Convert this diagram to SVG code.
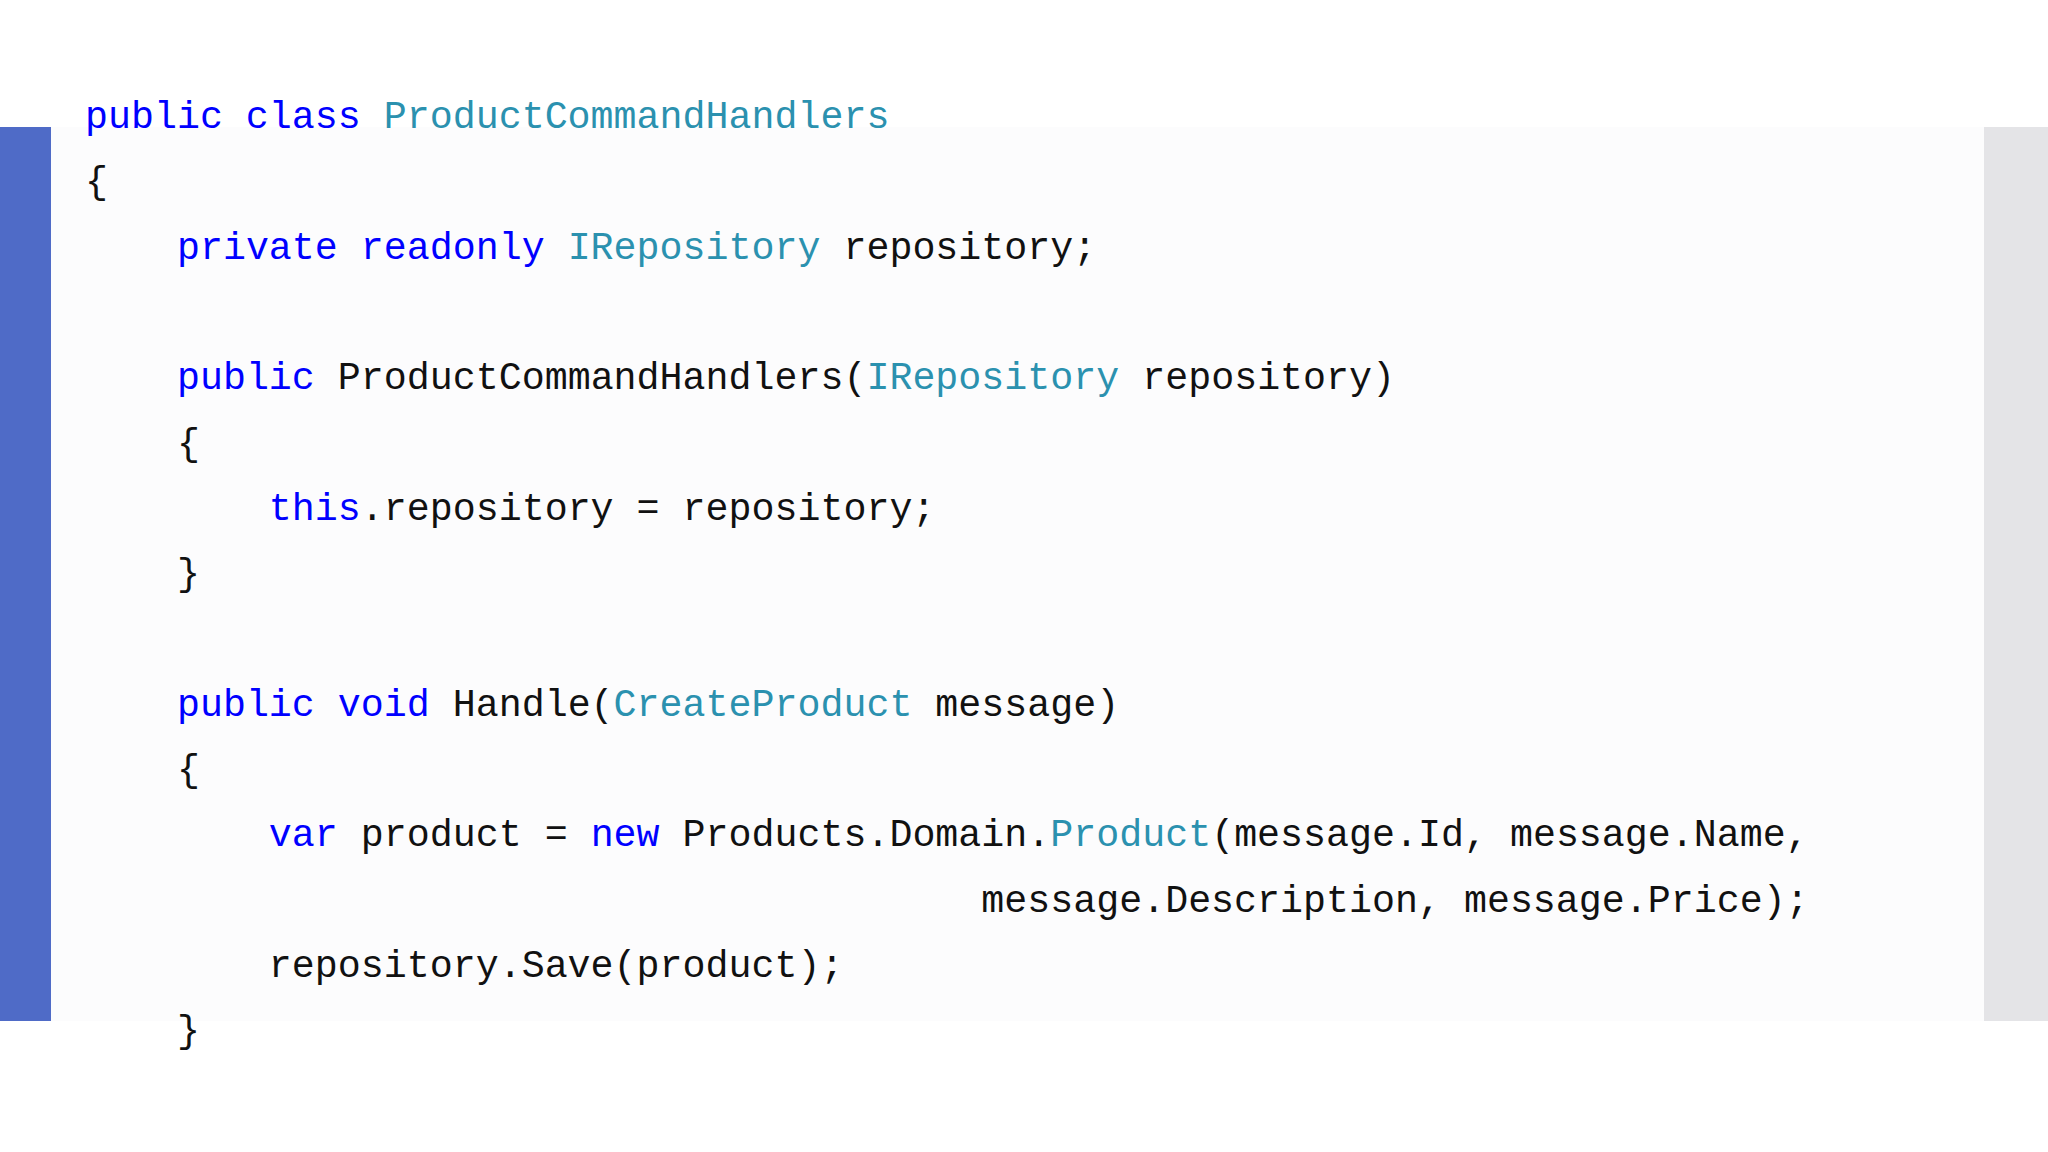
<svg xmlns="http://www.w3.org/2000/svg" width="2048" height="1152" viewBox="0 0 2048 1152">
<style>
text{font-family:"Liberation Mono","DejaVu Sans Mono",monospace;font-size:38.3px;fill:#111;white-space:pre}
.k{fill:#0000ff}.t{fill:#2b91af}
</style>
<rect width="2048" height="1152" fill="#ffffff"/>
<rect x="51" y="127" width="1933" height="894" fill="#fcfcfd"/>
<rect x="0" y="127" width="51" height="894" fill="#4f6bc7"/>
<rect x="1984" y="127" width="64" height="894" fill="#e4e4e7"/>
<g id="code" xml:space="preserve">
<text x="85" y="128"><tspan class="k">public class </tspan><tspan class="t">ProductCommandHandlers</tspan></text>
<text x="85" y="193">{</text>
<text x="85" y="259">    <tspan class="k">private readonly </tspan><tspan class="t">IRepository</tspan> repository;</text>
<text x="85" y="389">    <tspan class="k">public</tspan> ProductCommandHandlers(<tspan class="t">IRepository</tspan> repository)</text>
<text x="85" y="455">    {</text>
<text x="85" y="520">        <tspan class="k">this</tspan>.repository = repository;</text>
<text x="85" y="585">    }</text>
<text x="85" y="716">    <tspan class="k">public void</tspan> Handle(<tspan class="t">CreateProduct</tspan> message)</text>
<text x="85" y="781">    {</text>
<text x="85" y="846">        <tspan class="k">var</tspan> product = <tspan class="k">new</tspan> Products.Domain.<tspan class="t">Product</tspan>(message.Id, message.Name,</text>
<text x="85" y="912">                                       message.Description, message.Price);</text>
<text x="85" y="977">        repository.Save(product);</text>
<text x="85" y="1042">    }</text>
</g>
</svg>
